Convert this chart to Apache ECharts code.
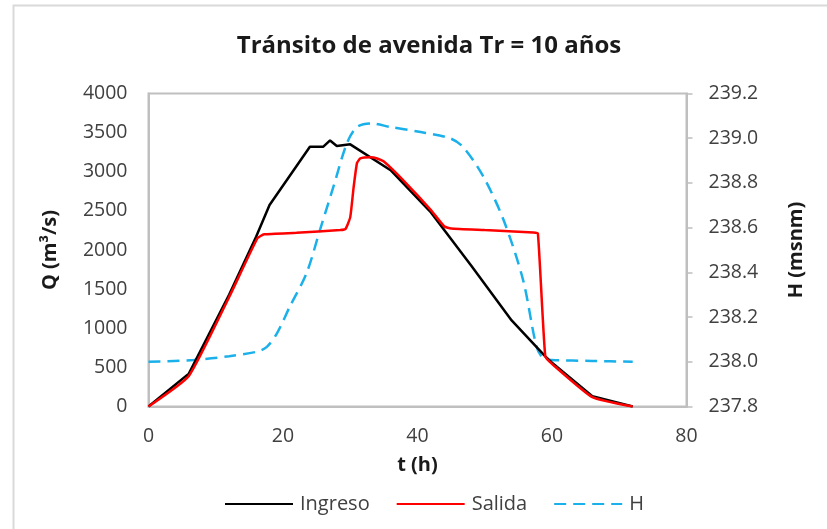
<!DOCTYPE html>
<html>
<head>
<meta charset="utf-8">
<script src="https://cdn.jsdelivr.net/npm/echarts@6/dist/echarts.min.js"></script>
<style>
html,body{margin:0;padding:0;background:#fff;}
#chart{width:827px;height:529px;}
</style>
</head>
<body>
<div id="chart"></div>
<script>
// ---- data ----
const titleText = 'Tránsito de avenida Tr = 10 años';
const xTicks = [0, 20, 40, 60, 80];
const qTicks = [0, 500, 1000, 1500, 2000, 2500, 3000, 3500, 4000];
const hTicks = [237.8, 238.0, 238.2, 238.4, 238.6, 238.8, 239.0, 239.2];

const tIngreso = [0, 6, 12, 16, 18, 24, 26, 27, 28, 30, 36, 42, 48, 54, 59, 60, 66, 72];
const qIngreso = [0, 420, 1430, 2170, 2575, 3320, 3320, 3400, 3330, 3350, 3020, 2480, 1800, 1100, 640, 560, 130, 0];

const tSalida = [0, 6, 12, 16.2, 17.2, 22, 28.5, 29.3, 30, 30.5, 31, 31.5, 33, 34, 35, 38, 42, 44, 45, 50, 57.2, 57.9, 59, 60, 66, 72];
const qSalida = [0, 390, 1400, 2150, 2200, 2220, 2255, 2270, 2420, 2800, 3110, 3170, 3185, 3170, 3130, 2880, 2510, 2300, 2275, 2255, 2225, 2213, 640, 545, 120, 0];

const tH = [0, 6.7, 12, 16.1, 17.6, 19.1, 21, 23.5, 25.5, 27.5, 29.5, 31, 33, 36, 40, 44.8, 46.8, 49.8, 52.8, 55.7, 57.7, 58.7, 60, 66, 72];
const hH = [238.0, 238.008, 238.025, 238.045, 238.067, 238.127, 238.246, 238.396, 238.59, 238.783, 238.977, 239.05, 239.066, 239.05, 239.03, 239.0, 238.96, 238.828, 238.634, 238.366, 238.067, 238.016, 238.008, 238.004, 238.0];

const zip = (a, b) => a.map((v, i) => [v, b[i]]);

const labelFont = 'Open Sans';
const chart = echarts.init(document.getElementById('chart'), null, {renderer: 'canvas'});
chart.setOption({
  animation: false,
  backgroundColor: '#fff',
  graphic: [{
    type: 'rect', left: 11, top: 3,
    shape: {width: 900, height: 600},
    style: {fill: 'none', stroke: '#d9d9d9', lineWidth: 2}, z: -10
  }],
  title: {
    text: titleText,
    left: 424, top: 29, textAlign: 'center',
    textStyle: {fontFamily: labelFont, fontWeight: 'bold', fontSize: 24, color: '#1a1a1a'}
  },
  legend: {
    top: 489, left: 219,
    itemWidth: 68, itemHeight: 14, itemGap: 26,
    itemStyle: {opacity: 0},
    textStyle: {fontFamily: labelFont, fontSize: 20, color: '#404040', padding: [0, 0, 0, 2]},
    data: ['Ingreso', 'Salida', 'H']
  },
  grid: {
    left: 148.5, right: 140.5, top: 93.5, bottom: 122.5,
    show: true, borderColor: '#bfbfbf', borderWidth: 2, containLabel: false
  },
  xAxis: {
    type: 'value', min: 0, max: 80, interval: 20,
    name: 't (h)', nameLocation: 'middle', nameGap: 49,
    nameTextStyle: {fontFamily: labelFont, fontWeight: 'bold', fontSize: 20, color: '#1a1a1a'},
    axisLine: {show: true, lineStyle: {color: '#bfbfbf', width: 2}},
    axisTick: {show: false},
    splitLine: {show: false},
    axisLabel: {margin: 20, fontFamily: labelFont, fontSize: 19.5, color: '#404040',
      formatter: v => xTicks.includes(v) ? String(v) : ''}
  },
  yAxis: [{
    type: 'value', min: 0, max: 4000, interval: 500,
    name: 'Q (m³/s)', nameLocation: 'middle', nameGap: 88, nameRotate: 90,
    nameTextStyle: {fontFamily: labelFont, fontWeight: 'bold', fontSize: 20, color: '#1a1a1a'},
    axisLine: {show: true, lineStyle: {color: '#bfbfbf', width: 2}},
    axisTick: {show: false},
    splitLine: {show: false},
    axisLabel: {margin: 21, fontFamily: labelFont, fontSize: 19.5, color: '#404040',
      formatter: v => qTicks.includes(v) ? String(v) : ''}
  }, {
    type: 'value', min: 237.8, max: 239.2, interval: 0.2, position: 'right',
    name: 'H (msnm)', nameLocation: 'middle', nameGap: 100, nameRotate: 90,
    nameTextStyle: {fontFamily: labelFont, fontWeight: 'bold', fontSize: 20, color: '#1a1a1a'},
    axisLine: {show: true, lineStyle: {color: '#bfbfbf', width: 2}},
    axisTick: {show: true, length: 6, lineStyle: {color: '#bfbfbf', width: 1.5}},
    splitLine: {show: false},
    axisLabel: {margin: 22, fontFamily: labelFont, fontSize: 19.5, color: '#404040',
      formatter: v => v.toFixed(1)}
  }],
  series: [{
    name: 'Ingreso', type: 'line', yAxisIndex: 0,
    data: zip(tIngreso, qIngreso), symbol: 'none', smooth: false,
    lineStyle: {color: '#000000', width: 2.5}, itemStyle: {color: '#000000'}, z: 3
  }, {
    name: 'Salida', type: 'line', yAxisIndex: 0,
    data: zip(tSalida, qSalida), symbol: 'none', smooth: 0.15,
    lineStyle: {color: '#ff0000', width: 2.5}, itemStyle: {color: '#ff0000'}, z: 4
  }, {
    name: 'H', type: 'line', yAxisIndex: 1,
    data: zip(tH, hH), symbol: 'none', smooth: 0.3,
    lineStyle: {color: '#1ab0ea', width: 2.5, type: [12, 7]}, itemStyle: {color: '#1ab0ea'}, z: 2
  }]
});
</script>
</body>
</html>
